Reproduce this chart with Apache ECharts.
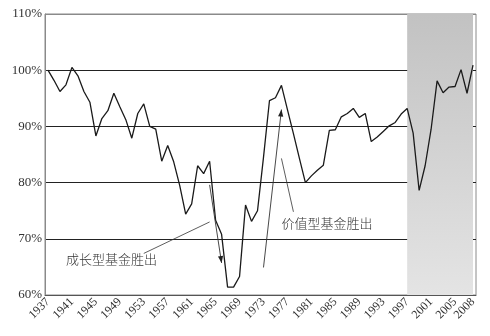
<!DOCTYPE html>
<html>
<head>
<meta charset="utf-8">
<script src="https://cdn.jsdelivr.net/npm/echarts@6/dist/echarts.min.js"></script>
<style>
html, body { margin: 0; padding: 0; background: #fff; }
#chart { width: 490px; height: 336px; }
</style>
</head>
<body>
<div id="chart"></div>
<script>
// 年份 1937-2008
var years = [];
for (var y = 1937; y <= 2008; y++) years.push(String(y));

// 价值型/成长型相对表现 (%)
var ratio = [
	100.0, 98.2, 96.2, 97.4, 100.5, 99.0, 96.2, 94.3, 88.3, 91.4,
	92.8, 95.9, 93.5, 91.2, 87.9, 92.3, 94.0, 90.0, 89.5, 83.8,
	86.6, 83.7, 79.5, 74.4, 76.2, 83.0, 81.6, 83.8, 73.3, 70.8,
	61.4, 61.4, 63.3, 76.0, 73.1, 75.0, 84.5, 94.6, 95.1, 97.3,
	93.0, 88.7, 84.3, 80.0, 81.2, 82.2, 83.1, 89.3, 89.4, 91.7,
	92.3, 93.2, 91.6, 92.3, 87.3, 88.1, 89.1, 90.1, 90.7, 92.2,
	93.2, 88.8, 78.6, 83.0, 89.5, 98.1, 96.0, 97.0, 97.1, 100.1,
	95.9, 100.9
];

// 阴影区间
var shadeFrom = '1997';
var shadeTo = '2008';

// 标注 (x 为年份序号, y 为百分比)
var notes = [
	{ text: '成长型基金胜出', at: [3.1, 66.4], leader: [[15.6, 67.4], [27.1, 73.0]], arrow: [[26.8, 79.6], [28.5, 65.7]] },
	{ text: '价值型基金胜出', at: [38.6, 72.8], leader: [[38.6, 84.3], [40.8, 74.8]], arrow: [[35.6, 64.9], [39.2, 93.0]] }
];

var serif = '"Liberation Serif", "DejaVu Serif", serif';
var myChart = echarts.init(document.getElementById('chart'));

var option = {
	backgroundColor: '#ffffff',
	animation: false,
	grid: {
		left: 45, right: 14, top: 14, bottom: 41,
		show: true, borderColor: '#8a8a8a', borderWidth: 1
	},
	xAxis: {
		type: 'category',
		data: years,
		boundaryGap: true,
		axisLine: { lineStyle: { color: '#555', width: 1 } },
		axisTick: { interval: 0, length: 3, lineStyle: { color: '#555' } },
		axisLabel: {
			rotate: 45,
			margin: 5,
			fontFamily: serif,
			fontSize: 12,
			color: '#333',
			interval: function (i) { return i % 4 === 0 || i === years.length - 1; }
		},
		splitLine: { show: false }
	},
	yAxis: {
		type: 'value',
		min: 60, max: 110, interval: 10,
		axisLine: { show: true, lineStyle: { color: '#8a8a8a' } },
		axisTick: { show: false },
		axisLabel: {
			formatter: '{value}%',
			fontFamily: serif,
			fontSize: 13,
			color: '#333',
			margin: 3
		},
		splitLine: {
			lineStyle: { color: ['#555', '#222', '#222', '#222', '#222', '#8a8a8a'], width: 1 }
		}
	},
	series: [{
		type: 'line',
		data: ratio,
		symbol: 'none',
		lineStyle: { color: '#1a1a1a', width: 1.3 },
		z: 3,
		markArea: {
			silent: true,
			itemStyle: {
				color: new echarts.graphic.LinearGradient(0, 0, 0, 1, [
					{ offset: 0, color: '#c2c2c2' },
					{ offset: 1, color: '#e4e4e4' }
				])
			},
			data: [[{ xAxis: shadeFrom, yAxis: 110 }, { xAxis: shadeTo, yAxis: 60 }]]
		}
	}]
};
myChart.setOption(option);

// 标注用 graphic, 坐标由数据换算
function px(p) { return myChart.convertToPixel({ gridIndex: 0 }, p); }
var g = [];
notes.forEach(function (n) {
	var t = px(n.at);
	g.push({
		type: 'text', x: t[0], y: t[1], z: 10,
		style: {
			text: n.text, fill: '#333', fontSize: 13,
			fontFamily: '"Noto Sans CJK SC"', fontWeight: 300,
			textVerticalAlign: 'middle', verticalAlign: 'middle'
		}
	});
	var a = px(n.leader[0]), b = px(n.leader[1]);
	g.push({ type: 'line', z: 10, shape: { x1: a[0], y1: a[1], x2: b[0], y2: b[1] }, style: { stroke: '#333', lineWidth: 0.8 } });
	var s = px(n.arrow[0]), e = px(n.arrow[1]);
	g.push({ type: 'line', z: 10, shape: { x1: s[0], y1: s[1], x2: e[0], y2: e[1] }, style: { stroke: '#333', lineWidth: 0.9 } });
	var ang = Math.atan2(e[1] - s[1], e[0] - s[0]);
	var L = 7, W = 2.6;
	var bx = e[0] - L * Math.cos(ang), by = e[1] - L * Math.sin(ang);
	g.push({
		type: 'polygon', z: 10,
		shape: { points: [
			[e[0], e[1]],
			[bx + W * Math.sin(ang), by - W * Math.cos(ang)],
			[bx - W * Math.sin(ang), by + W * Math.cos(ang)]
		] },
		style: { fill: '#222' }
	});
});
myChart.setOption({ graphic: g });
</script>
</body>
</html>
